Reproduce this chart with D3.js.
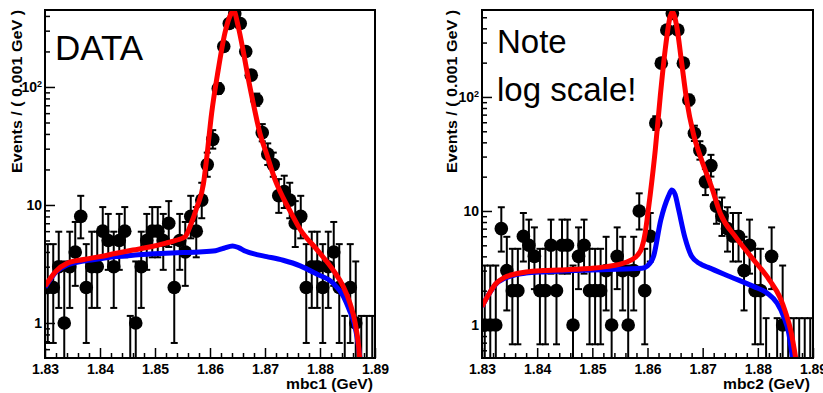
<!DOCTYPE html>
<html><head><meta charset="utf-8">
<script src="https://cdn.jsdelivr.net/npm/d3@7"></script>
<style>
body{margin:0;background:#fff;}
svg{display:block;font-family:"Liberation Sans",Arial,Helvetica,sans-serif;}
</style></head><body>
<svg id="c" width="823" height="393"></svg>
<script>
// ---------------- data ----------------
const binLow = 1.83;
const binWidth = 0.001;
const xTicks = [1.83, 1.84, 1.85, 1.86, 1.87, 1.88, 1.89];
const xTickLabels = ["1.83", "1.84", "1.85", "1.86", "1.87", "1.88", "1.89"];
const yTicks = [1, 10, 100];
const yTickLabels = ["1", "10", "10"];
const yMinorTicks = [0.6,0.7,0.8,0.9,2,3,4,5,6,7,8,9,20,30,40,50,60,70,80,90,200,300,400,500];
const yTitle = "Events / ( 0.001 GeV )";

// mbc1 : events per 1 MeV bin (60 bins, 1.830 - 1.890)
const counts1 = [2,2,3,1,3,4,8,2,3,3, 6,5,3,5,6,0,1,3,5,6, 6,5,7,2,5,4,8,6,11,22,
                 36,97,220,345,418,345,200,126,78,41, 27,22,12,13,11,7,8,2,3,3, 2,3,4,2,0,2,1,0,0,0];
// mbc2
const counts2 = [1,1,1,7,3,2,2,6,5,4, 2,2,5,2,5,5,1,4,5,2, 2,2,3,1,4,3,1,3,10,2,
                 6,59,198,387,540,387,198,94,48,34, 18,25,11,9,7,6,6,3,5,2, 2,0,4,0,1,0,0,0,0,0];

// fit curves: [mbc (GeV), events]
const fitTotal1 = [[1.8300,2.05],[1.8320,2.75],[1.8340,3.2],[1.8370,3.45],[1.8400,3.65],[1.8430,3.9],
  [1.8460,4.15],[1.8490,4.4],[1.8520,4.75],[1.8540,5.05],[1.8555,5.4],[1.8565,6.8],[1.8576,9.5],
  [1.8588,15],[1.8594,25],[1.8603,60],[1.8615,140],[1.8627,285],[1.8638,415],[1.8643,445],
  [1.8651,330],[1.8661,195],[1.8670,115],[1.8680,68],[1.8691,40],[1.8703,27],[1.8718,16.5],
  [1.8733,11.5],[1.8745,9],[1.8764,6.2],[1.8794,4.2],[1.8824,2.8],[1.8842,2.05],[1.8855,1.45],
  [1.8864,1.0],[1.8870,0.65],[1.8873,0.45]];
const fitBkg1 = [[1.8300,2.0],[1.8320,2.7],[1.8340,3.1],[1.8370,3.35],[1.8400,3.5],[1.8430,3.65],
  [1.8460,3.75],[1.8490,3.85],[1.8520,3.9],[1.8550,3.95],[1.8580,4.0],[1.8610,4.1],[1.8625,4.3],
  [1.8641,4.5],[1.8652,4.35],[1.8665,4.05],[1.8685,3.8],[1.8703,3.65],[1.8733,3.4],[1.8764,3.05],
  [1.8794,2.6],[1.8824,2.17],[1.8842,1.7],[1.8853,1.3],[1.8862,1.0],[1.8869,0.68],[1.8874,0.45]];
const fitTotal2 = [[1.8300,1.45],[1.8312,1.85],[1.8325,2.3],[1.8340,2.6],[1.8360,2.8],[1.8380,2.92],
  [1.8410,3.0],[1.8440,3.03],[1.8470,3.08],[1.8500,3.14],[1.8525,3.25],[1.8549,3.4],[1.8570,3.7],
  [1.8582,4.1],[1.8590,4.8],[1.8596,6.5],[1.8600,9],[1.8605,14],[1.8614,34],[1.8623,100],
  [1.8632,258],[1.8641,505],[1.8645,560],[1.8653,415],[1.8662,198],[1.8671,94],[1.8683,48],
  [1.8698,28],[1.8716,16.3],[1.8732,9.5],[1.8760,5.9],[1.8790,3.85],[1.8821,2.48],[1.8840,1.75],
  [1.8850,1.3],[1.8860,0.88],[1.8869,0.5]];
const fitBkg2 = [[1.8300,1.45],[1.8312,1.85],[1.8325,2.28],[1.8340,2.55],[1.8360,2.75],[1.8380,2.85],
  [1.8410,2.92],[1.8440,2.96],[1.8470,3.0],[1.8500,3.03],[1.8530,3.06],[1.8560,3.1],[1.8590,3.14],
  [1.8600,3.3],[1.8611,4.0],[1.8624,8.3],[1.8638,13.5],[1.8644,15.3],[1.8650,14],[1.8656,10.5],
  [1.8668,5.8],[1.8680,4.0],[1.8695,3.45],[1.8710,3.2],[1.8750,2.65],[1.8793,2.17],[1.8817,1.9],
  [1.8835,1.55],[1.8847,1.18],[1.8856,0.85],[1.8863,0.5]];

// ---------------- layout ----------------
const panels = [
  {id:"p1", counts:counts1, total:fitTotal1, bkg:fitBkg1, x0:45, x1:375, y0:10, y1:358,
   yMin:0.505, yMax:449, titleX:22, xTitle:"mbc1 (GeV)", xTitleEnd:373, labels:[{t:"DATA",x:55,y:60}]},
  {id:"p2", counts:counts2, total:fitTotal2, bkg:fitBkg2, x0:482, x1:813, y0:10, y1:358,
   yMin:0.5135, yMax:579, titleX:457, xTitle:"mbc2 (GeV)", xTitleEnd:810,
   labels:[{t:"Note",x:497,y:53},{t:"log scale!",x:497,y:101}]}
];

const svg = d3.select("#c");
svg.append("rect").attr("width",823).attr("height",393).attr("fill","#fff");

function poisson(n){
  if(n===0) return [0, 1.148];
  return [n - Math.sqrt(n - 0.25), n + Math.sqrt(n + 0.75) + 1];
}

panels.forEach(p => {
  const x = d3.scaleLinear().domain([xTicks[0], xTicks[xTicks.length-1]]).range([p.x0, p.x1]);
  const y = d3.scaleLog().domain([p.yMin, p.yMax]).range([p.y1, p.y0]);
  const g = svg.append("g");

  g.append("clipPath").attr("id","clip-"+p.id).append("rect")
    .attr("x",p.x0).attr("y",p.y0).attr("width",p.x1-p.x0).attr("height",p.y1-p.y0);

  const fontAxis = g => g.attr("font-family","'Liberation Sans',Arial,sans-serif")
                         .attr("font-size",14).attr("font-weight","bold");
  const xMinor = d3.range(0, 31).map(k => xTicks[0] + k*0.002).filter(v => !xTicks.some(t => Math.abs(t-v)<1e-9));
  g.append("g").attr("transform",`translate(0,${p.y1})`)
    .call(d3.axisBottom(x).tickValues(xMinor).tickSize(-5).tickFormat(""))
    .call(a => a.select(".domain").remove())
    .call(a => a.selectAll("line").attr("stroke","#000").attr("stroke-width",1.5));
  g.append("g").attr("transform",`translate(0,${p.y1})`)
    .call(d3.axisBottom(x).tickValues(xTicks).tickSize(-10).tickPadding(6)
      .tickFormat((d,i) => xTickLabels[i]))
    .call(fontAxis)
    .call(a => a.select(".domain").remove())
    .call(a => a.selectAll("line").attr("stroke","#000").attr("stroke-width",1.5))
    .call(a => a.selectAll("text").attr("fill","#000"));

  const minors = yMinorTicks.filter(v => v > p.yMin && v < p.yMax);
  g.append("g").attr("transform",`translate(${p.x0},0)`)
    .call(d3.axisLeft(y).tickValues(minors).tickSize(-5).tickFormat(""))
    .call(a => a.select(".domain").remove())
    .call(a => a.selectAll("line").attr("stroke","#000").attr("stroke-width",1.5));
  g.append("g").attr("transform",`translate(${p.x0},0)`)
    .call(d3.axisLeft(y).tickValues(yTicks).tickSize(-10).tickPadding(3)
      .tickFormat((d,i) => yTickLabels[i]))
    .call(fontAxis)
    .call(a => a.select(".domain").remove())
    .call(a => a.selectAll("line").attr("stroke","#000").attr("stroke-width",1.5))
    .call(a => a.selectAll("text").attr("fill","#000")
      .filter(d => d === 100).append("tspan").attr("font-size",9).attr("dy","-0.55em").text("2"));

  // titles
  g.append("text").attr("transform",`translate(${p.titleX},${p.y0}) rotate(-90)`)
    .attr("text-anchor","end").attr("font-size",14).attr("font-weight","bold")
    .attr("textLength",163).attr("lengthAdjust","spacingAndGlyphs").text(yTitle);
  g.append("text").attr("x",p.xTitleEnd).attr("y",389).attr("text-anchor","end")
    .attr("font-size",14).attr("font-weight","bold")
    .attr("textLength",87).attr("lengthAdjust","spacingAndGlyphs").text(p.xTitle);

  // annotation labels
  p.labels.forEach(l => g.append("text").attr("x",l.x).attr("y",l.y)
    .attr("font-size", l.t==="DATA"?35:33).attr("fill","#000").text(l.t));

  const plot = g.append("g").attr("clip-path",`url(#clip-${p.id})`);
  const bins = p.counts.map((n,i) => ({xc: binLow + (i+0.5)*binWidth, n, e: poisson(n)}));
  const yc = v => v <= 0 ? p.y1 + 20 : y(v);

  // error bars
  const eb = plot.append("g").attr("stroke","#000").attr("stroke-width",2);
  bins.forEach(b => {
    const cx = x(b.xc);
    eb.append("line").attr("x1",cx).attr("x2",cx).attr("y1",yc(b.e[0])).attr("y2",yc(b.e[1]));
    eb.append("line").attr("x1",cx-3.5).attr("x2",cx+3.5).attr("y1",yc(b.e[1])).attr("y2",yc(b.e[1]));
    if (b.n > 0) eb.append("line").attr("x1",cx-3.5).attr("x2",cx+3.5).attr("y1",yc(b.e[0])).attr("y2",yc(b.e[0]));
  });
  // markers
  plot.append("g").selectAll("circle").data(bins.filter(b => b.n > 0)).join("circle")
    .attr("cx", b => x(b.xc)).attr("cy", b => y(b.n)).attr("r", 6.8).attr("fill","#000");

  // fit curves
  const line = d3.line().x(d => x(d[0])).y(d => y(d[1])).curve(d3.curveMonotoneX);
  plot.append("path").datum(p.bkg).attr("d", line).attr("fill","none")
    .attr("stroke","#0000ff").attr("stroke-width",5).attr("stroke-linejoin","round");
  plot.append("path").datum(p.total).attr("d", line).attr("fill","none")
    .attr("stroke","#ff0000").attr("stroke-width",5).attr("stroke-linejoin","round");

  // frame
  g.append("rect").attr("x",p.x0).attr("y",p.y0).attr("width",p.x1-p.x0).attr("height",p.y1-p.y0)
    .attr("fill","none").attr("stroke","#000").attr("stroke-width",2);
});
</script>
</body></html>
